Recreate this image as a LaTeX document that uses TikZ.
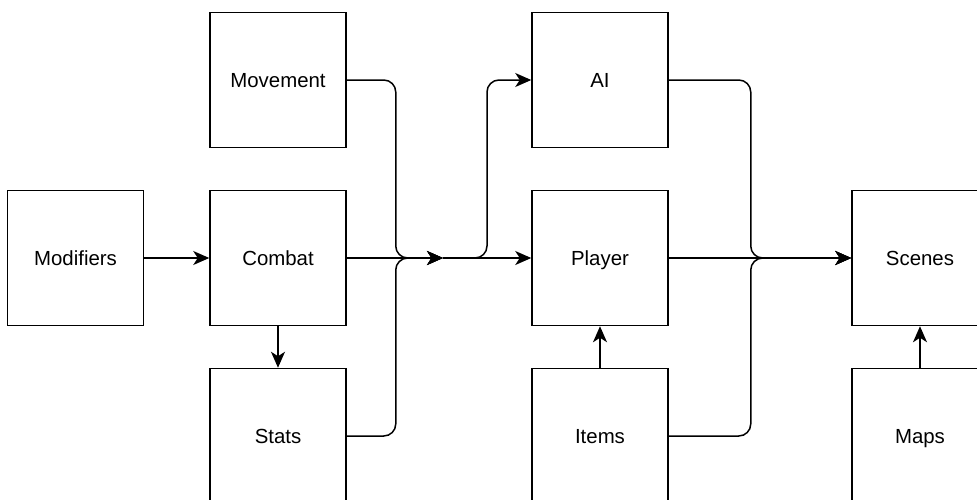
\documentclass[tikz,border=0pt]{standalone}
\usepackage{fontspec}
\setmainfont{Liberation Sans}
\usetikzlibrary{arrows.meta}
\begin{document}
\begin{tikzpicture}[x=1pt,y=-1pt,
  block/.style={draw, line width=1.5pt, minimum width=136pt, minimum height=135pt,
    inner sep=0pt, text height=15pt, text depth=0pt,
    font=\fontsize{20.4}{24}\selectfont},
  link/.style={line width=1.5pt, rounded corners=12pt,
    -{Stealth[length=16pt,width=14pt,inset=4.5pt]}}]
\useasboundingbox (0,0) rectangle (977,499);

% component boxes
\node[block] (mod) at (75.5,258) {Modifiers};
\node[block] (com) at (278,258) {Combat};
\node[block] (mov) at (278,80) {Movement};
\node[block] (sta) at (278,436) {Stats};
\node[block] (ai)  at (600,80) {AI};
\node[block] (pla) at (600,258) {Player};
\node[block] (ite) at (600,436) {Items};
\node[block] (sce) at (920,258) {Scenes};
\node[block] (map) at (920,436) {Maps};

% junction where the left group merges
\coordinate (jl) at (443,258);

% left group
\draw[link] (mod.east) -- (com.west);
\draw[link] (com.south) -- (sta.north);
\draw[link] (mov.east) -- ++(49,0) |- (jl);
\draw[link] (sta.east) -- ++(49,0) |- (jl);
\draw[link] (com.east) -- (jl);

% from junction to AI and Player
\draw[link] (jl) -- (pla.west);
\draw[link] (jl) -- ++(44,0) |- (ai.west);

% middle group into Scenes
\draw[link] (ai.east) -- ++(82,0) |- (sce.west);
\draw[link] (ite.east) -- ++(82,0) |- (sce.west);
\draw[link] (pla.east) -- (sce.west);
\draw[link] (ite.north) -- (pla.south);
\draw[link] (map.north) -- (sce.south);
\end{tikzpicture}
\end{document}
